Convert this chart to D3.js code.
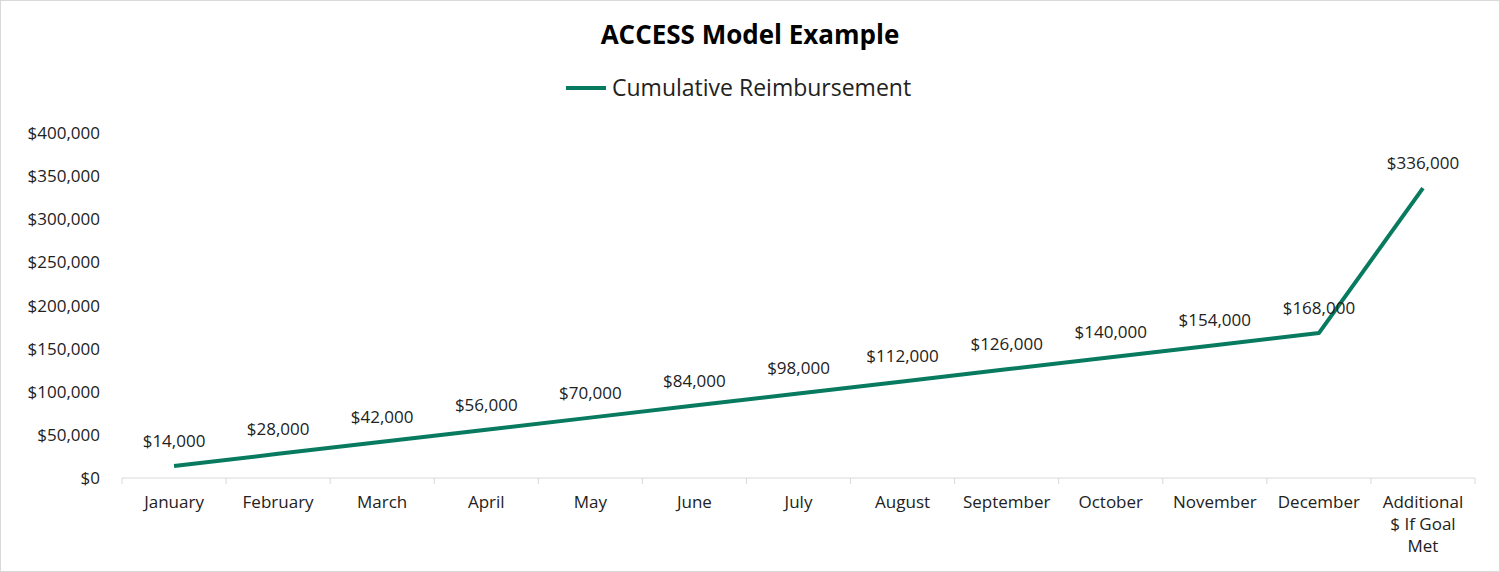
<!DOCTYPE html>
<html><head><meta charset="utf-8">
<script src="https://cdn.jsdelivr.net/npm/d3@7"></script>
<style>body{margin:0;background:#fff;font-family:"Open Sans",sans-serif}</style>
</head><body>
<svg id="chart"></svg>
<script>
const months = ["January","February","March","April","May","June","July","August","September","October","November","December","Additional $ If Goal Met"];
const reimbursement = [14000,28000,42000,56000,70000,84000,98000,112000,126000,140000,154000,168000,336000];
const yTicks = [0,50000,100000,150000,200000,250000,300000,350000,400000];
const seriesName = "Cumulative Reimbursement";
const lineColor = "#087a5f";

const width = 1500, height = 572;
const margin = { top: 133, right: 25, bottom: 94, left: 122 };
const svg = d3.select("#chart").attr("width", width).attr("height", height);

svg.append("rect").attr("x", 0.5).attr("y", 0.5).attr("width", width - 1).attr("height", height - 1)
  .attr("fill", "#fff").attr("stroke", "#d9d9d9");

const x = d3.scaleBand().domain(months).range([margin.left, width - margin.right]);
const y = d3.scaleLinear().domain([0, 400000]).range([height - margin.bottom, margin.top]);
const fmt = d => "$" + d3.format(",")(d);

// title + legend
svg.append("text").attr("x", 750).attr("y", 44).attr("text-anchor", "middle")
  .attr("font-size", 26).attr("font-weight", "bold").attr("fill", "#000").text("ACCESS Model  Example");
svg.append("line").attr("x1", 566).attr("x2", 606).attr("y1", 88).attr("y2", 88)
  .attr("stroke", lineColor).attr("stroke-width", 4);
svg.append("text").attr("x", 612).attr("y", 96).attr("font-size", 23).attr("fill", "#222").text(seriesName);

// y axis labels
svg.selectAll(".ylab").data(yTicks).enter().append("text")
  .attr("x", 100).attr("y", d => y(d) + 6).attr("text-anchor", "end")
  .attr("font-size", 17).attr("fill", "#222").text(fmt);

// x axis
const base = y(0);
svg.append("line").attr("x1", margin.left).attr("x2", width - margin.right)
  .attr("y1", base).attr("y2", base).attr("stroke", "#d9d9d9");
const edges = months.map(m => x(m)).concat([width - margin.right]);
svg.selectAll(".tick").data(edges).enter().append("line")
  .attr("x1", d => d).attr("x2", d => d).attr("y1", base).attr("y2", base + 6).attr("stroke", "#d9d9d9");

months.forEach(m => {
  const cx = x(m) + x.bandwidth() / 2;
  const lines = m.startsWith("Additional") ? ["Additional", "$ If Goal", "Met"] : [m];
  lines.forEach((t, i) => {
    svg.append("text").attr("x", cx).attr("y", base + 30 + i * 22).attr("text-anchor", "middle")
      .attr("font-size", 17).attr("fill", "#222").text(t);
  });
});

// line
const line = d3.line().x((d, i) => x(months[i]) + x.bandwidth() / 2).y(d => y(d));
svg.append("path").datum(reimbursement).attr("d", line).attr("fill", "none")
  .attr("stroke", lineColor).attr("stroke-width", 4).attr("stroke-linejoin", "round");

// data labels
svg.selectAll(".dlab").data(reimbursement).enter().append("text")
  .attr("x", (d, i) => x(months[i]) + x.bandwidth() / 2)
  .attr("y", d => y(d) - 19).attr("text-anchor", "middle")
  .attr("font-size", 17).attr("fill", "#222").text(fmt);
</script>
</body></html>
